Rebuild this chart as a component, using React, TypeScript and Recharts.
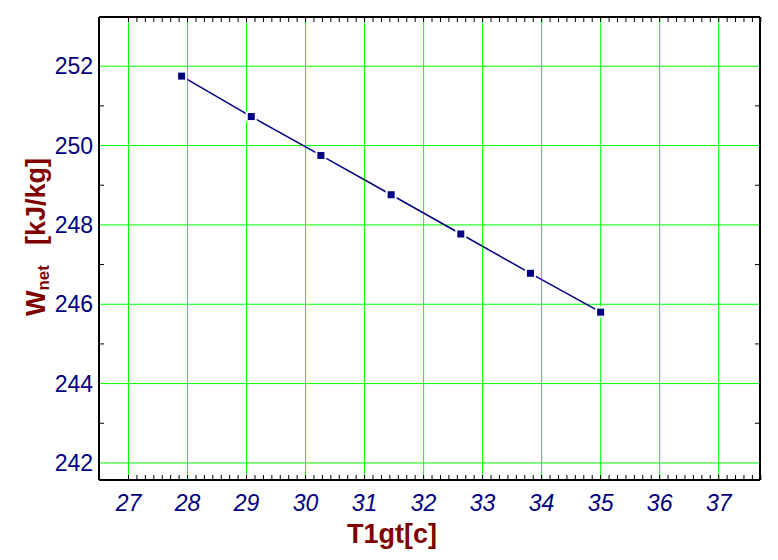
import React from 'react';
import { ComposedChart, Line, XAxis, YAxis, ReferenceLine } from 'recharts';

const t1gt = [27.9, 29.08, 30.26, 31.45, 32.63, 33.81, 35.0];
const wnet = [251.75, 250.73, 249.75, 248.76, 247.77, 246.78, 245.8];
const xMajorTicks = [27, 28, 29, 30, 31, 32, 33, 34, 35, 36, 37];
const yMajorTicks = [242, 244, 246, 248, 250, 252];
const yMinorTicks = [243, 245, 247, 249, 251];
const xMinorTicks: number[] = [];
for (let i = 0; i <= 75; i++) xMinorTicks.push(27 + i / 7);

const data = t1gt.map((x, i) => ({ x, y: wnet[i] }));

const X_DOMAIN: [number, number] = [26.5, 37.7];
const Y_DOMAIN: [number, number] = [241.57, 253.24];
const FONT = "Arial, 'Liberation Sans', sans-serif";
const NAVY = '#000080';
const MAROON = '#800000';
const GREEN = '#00ff00';
const TICK = { stroke: '#000000', strokeWidth: 1 };
const TS = 5;

const NoLabel = () => <g />;

const SquareDot = (props: any) => {
  const { cx, cy, index } = props;
  if (cx == null || cy == null) return null;
  return (
    <g key={`dot-${index}`}>
      <rect x={cx - 5.5} y={cy - 5.5} width={11} height={11} fill="#ffffff" />
      <rect x={cx - 3.5} y={cy - 3.5} width={7} height={7} fill={NAVY} />
    </g>
  );
};

const XTitle = () => (
  <text x={392} y={543} textAnchor="middle" fill={MAROON} fontFamily={FONT} fontWeight="bold" fontSize={27}>
    T1gt[c]
  </text>
);

const YTitle = () => (
  <text
    transform="translate(45, 237) rotate(-90)"
    x={0}
    y={0}
    textAnchor="middle"
    fill={MAROON}
    fontFamily={FONT}
    fontWeight="bold"
    fontSize={27}
  >
    <tspan>W</tspan>
    <tspan fontSize={17} dy={4}>net</tspan>
    <tspan dy={-4} dx={20}>[kJ/kg]</tspan>
  </text>
);

export default function App() {
  return (
    <div style={{ width: 778, height: 560, background: '#fff' }}>
      <style>{'body{margin:0;overflow:hidden;background:#fff}'}</style>
      <ComposedChart width={778} height={560} data={data} margin={{ top: 17, right: 18, bottom: 0, left: 0 }}>
        {xMajorTicks.map((t) => (
          <ReferenceLine key={`vx-${t}`} x={t} stroke={GREEN} strokeWidth={1} zIndex={-100} />
        ))}
        {yMajorTicks.map((t) => (
          <ReferenceLine key={`hy-${t}`} y={t} stroke={GREEN} strokeWidth={1} zIndex={-100} />
        ))}
        <XAxis
          dataKey="x"
          type="number"
          domain={X_DOMAIN}
          allowDataOverflow
          ticks={xMajorTicks}
          interval={0}
          height={80}
          tickSize={0}
          tickMargin={15}
          tickLine={false}
          axisLine={{ stroke: '#000', strokeWidth: 2 }}
          tick={{ fill: NAVY, fontSize: 23, fontStyle: 'italic', fontFamily: FONT }}
          label={{ content: () => <XTitle /> }}
        />
        <XAxis
          xAxisId="minB"
          dataKey="x"
          type="number"
          domain={X_DOMAIN}
          allowDataOverflow
          ticks={xMinorTicks}
          interval={0}
          orientation="bottom"
          mirror
          height={5}
          tickSize={TS}
          tick={NoLabel}
          axisLine={false}
          tickLine={TICK}
        />
        <XAxis
          xAxisId="minT"
          dataKey="x"
          type="number"
          domain={X_DOMAIN}
          allowDataOverflow
          ticks={xMinorTicks}
          interval={0}
          orientation="top"
          mirror
          height={5}
          tickSize={TS}
          tick={NoLabel}
          axisLine={{ stroke: '#000', strokeWidth: 2 }}
          tickLine={TICK}
        />
        <YAxis
          dataKey="y"
          type="number"
          domain={Y_DOMAIN}
          allowDataOverflow
          ticks={yMajorTicks}
          interval={0}
          width={99}
          tickSize={0}
          tickMargin={6}
          tickLine={false}
          axisLine={{ stroke: '#000', strokeWidth: 2 }}
          tick={{ fill: NAVY, fontSize: 23, fontFamily: FONT }}
          label={{ content: () => <YTitle /> }}
        />
        <YAxis
          yAxisId="minL"
          type="number"
          domain={Y_DOMAIN}
          allowDataOverflow
          ticks={yMinorTicks}
          interval={0}
          orientation="left"
          mirror
          width={5}
          tickSize={TS}
          tick={NoLabel}
          axisLine={false}
          tickLine={TICK}
        />
        <YAxis
          yAxisId="minR"
          type="number"
          domain={Y_DOMAIN}
          allowDataOverflow
          ticks={yMinorTicks}
          interval={0}
          orientation="right"
          mirror
          width={5}
          tickSize={TS}
          tick={NoLabel}
          axisLine={{ stroke: '#000', strokeWidth: 2 }}
          tickLine={TICK}
        />
        <Line
          dataKey="y"
          type="linear"
          stroke={NAVY}
          strokeWidth={1.5}
          dot={<SquareDot />}
          activeDot={false}
          isAnimationActive={false}
        />
      </ComposedChart>
    </div>
  );
}
